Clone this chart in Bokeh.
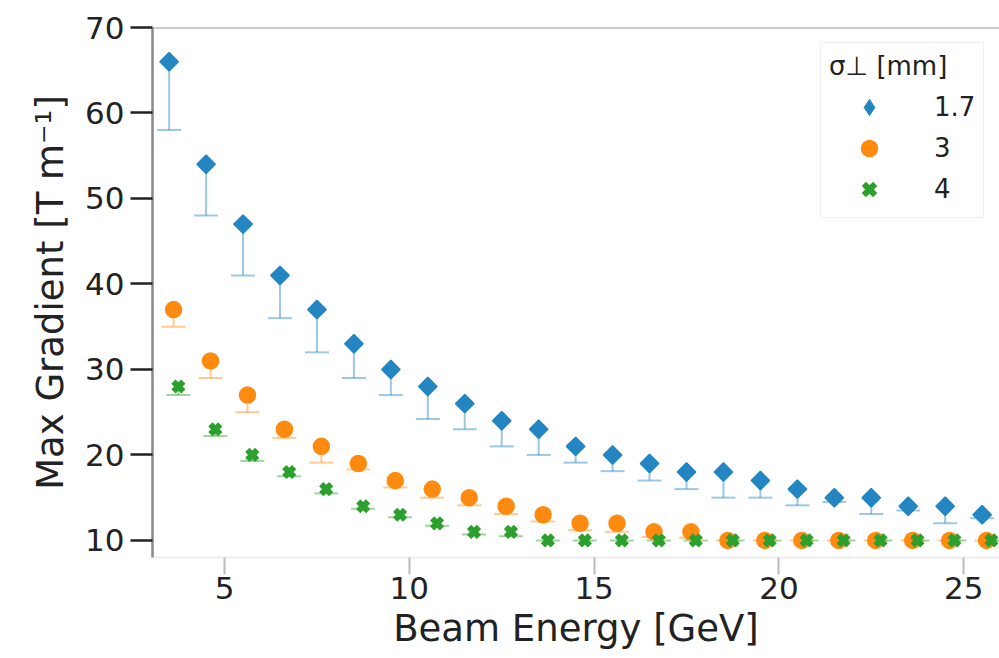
import math
from bokeh.plotting import figure
from bokeh.models import (Whisker, TeeHead, ColumnDataSource, Legend, LegendItem,
                          Span, FixedTicker, Range1d)
from bokeh.embed import file_html
from bokeh.resources import INLINE

# ---------------- data ----------------
energy = [3.5, 4.5, 5.5, 6.5, 7.5, 8.5, 9.5, 10.5, 11.5, 12.5, 13.5, 14.5,
          15.5, 16.5, 17.5, 18.5, 19.5, 20.5, 21.5, 22.5, 23.5, 24.5, 25.5]

sigma_labels = ["1.7", "3", "4"]

grad_17 = [66, 54, 47, 41, 37, 33, 30, 28, 26, 24, 23, 21,
           20, 19, 18, 18, 17, 16, 15, 15, 14, 14, 13]
low_17 = [58, 48, 41, 36, 32, 29, 27, 24.2, 23, 21, 20, 19.1,
          18.1, 17, 16, 15, 15, 14.1, 14.5, 13.1, 13.5, 12, 12.6]

grad_3 = [37, 31, 27, 23, 21, 19, 17, 16, 15, 14, 13, 12,
          12, 11, 11, 10, 10, 10, 10, 10, 10, 10, 10]
low_3 = [35, 29, 25, 22, 19.1, 18.3, 16.2, 15, 14.1, 13.1, 12.2, 11.2,
         11, 10.4, 10.3, 10, 10, 10, 10, 10, 10, 10, 10]

grad_4 = [28, 23, 20, 18, 16, 14, 13, 12, 11, 11, 10, 10,
          10, 10, 10, 10, 10, 10, 10, 10, 10, 10, 10]
low_4 = [27, 22.2, 19.3, 17.5, 15.5, 13.7, 12.7, 11.7, 10.7, 10.5, 10, 10,
         10, 10, 10, 10, 10, 10, 10, 10, 10, 10, 10]

x_ticks = [5, 10, 15, 20, 25]
y_ticks = [10, 20, 30, 40, 50, 60, 70]

# ---------------- style ----------------
colors = ["#2386c2", "#ff8a10", "#2ca02c"]
dodge = [0.0, 0.12, 0.25]
FONT = "DejaVu Sans"

p = figure(width=999, height=658, output_backend="svg", toolbar_location=None,
           x_range=Range1d(3.05, 25.97), y_range=Range1d(8, 70),
           min_border_left=152, min_border_right=0, min_border_top=27,
           min_border_bottom=101)
p.background_fill_color = "white"
p.border_fill_color = "white"
p.outline_line_color = None
p.xgrid.grid_line_color = None
p.ygrid.grid_line_color = None

series = [(grad_17, low_17), (grad_3, low_3), (grad_4, low_4)]

# error bars (downward only, with caps)
for i, (g, lo) in enumerate(series):
    xs = [e + dodge[i] for e in energy]
    src = ColumnDataSource(dict(x=xs, y=g, lower=lo))
    w = Whisker(source=src, base="x", upper="y", lower="lower", dimension="height",
                line_color=colors[i], line_alpha=0.45, line_width=2,
                upper_head=None,
                lower_head=TeeHead(size=24, line_color=colors[i], line_alpha=0.45,
                                   line_width=2))
    p.add_layout(w)

# markers
srcs = [ColumnDataSource(dict(x=[e + dodge[i] for e in energy], y=g))
        for i, (g, lo) in enumerate(series)]

# sigma = 1.7 : diamond (legend swatch) hidden under a rotated square
r17_leg = p.scatter("x", "y", source=srcs[0], marker="diamond", size=17,
                    fill_color=colors[0], line_color=colors[0], line_width=1)
p.scatter("x", "y", source=srcs[0], marker="square", size=13, angle=math.pi / 4,
          fill_color=colors[0], line_color=colors[0], line_width=1.5)
r3 = p.scatter("x", "y", source=srcs[1], marker="circle", size=16,
               fill_color=colors[1], line_color=colors[1], line_width=1.5)
r4 = p.scatter("x", "y", source=srcs[2], marker="x", size=14,
               line_color=colors[2], line_width=6)

legend_items = [LegendItem(label=sigma_labels[0], renderers=[r17_leg]),
                LegendItem(label=sigma_labels[1], renderers=[r3]),
                LegendItem(label=sigma_labels[2], renderers=[r4])]

# top border line
p.add_layout(Span(location=70, dimension="width", line_color="#999999", line_width=2))

# axes
p.xaxis.ticker = FixedTicker(ticks=x_ticks)
p.yaxis.ticker = FixedTicker(ticks=y_ticks)
p.xaxis.axis_label = "Beam Energy [GeV]"
p.yaxis.axis_label = "Max Gradient [T m\u207b\u00b9]"
for ax in (p.xaxis, p.yaxis):
    ax.axis_label_text_font = FONT
    ax.axis_label_text_font_size = "37px"
    ax.axis_label_text_font_style = "normal"
    ax.axis_label_text_color = "#222222"
    ax.major_label_text_font = FONT
    ax.major_label_text_font_size = "31px"
    ax.major_label_text_color = "#222222"
    ax.minor_tick_line_color = None
    ax.major_tick_in = 0

p.yaxis.axis_line_color = "#888888"
p.yaxis.axis_line_width = 2.5
p.yaxis.major_tick_line_color = "#222222"
p.yaxis.major_tick_line_width = 2.5
p.yaxis.major_tick_out = 22
p.yaxis.major_label_standoff = 6
p.yaxis.axis_label_standoff = 10

p.xaxis.axis_line_color = "#eeeeee"
p.xaxis.axis_line_width = 2
p.xaxis.major_tick_line_color = "#bbbbbb"
p.xaxis.major_tick_line_width = 2
p.xaxis.major_tick_out = 17
p.xaxis.major_label_standoff = 2
p.xaxis.axis_label_standoff = 5

legend = Legend(items=legend_items, location=(668, 339),
                title="\u03c3\u22a5 [mm]", title_text_font=FONT,
                title_text_font_size="26px", title_text_font_style="normal",
                title_text_color="#222222", title_standoff=6,
                label_text_font=FONT, label_text_font_size="26px",
                label_text_color="#222222",
                glyph_width=80, glyph_height=40, label_height=40,
                label_standoff=25, spacing=1, padding=8, margin=0,
                border_line_color="#dddddd", border_line_width=1.5,
                background_fill_color="white", background_fill_alpha=0.9)
p.add_layout(legend)

open("out.html", "w").write(file_html(p, INLINE))
